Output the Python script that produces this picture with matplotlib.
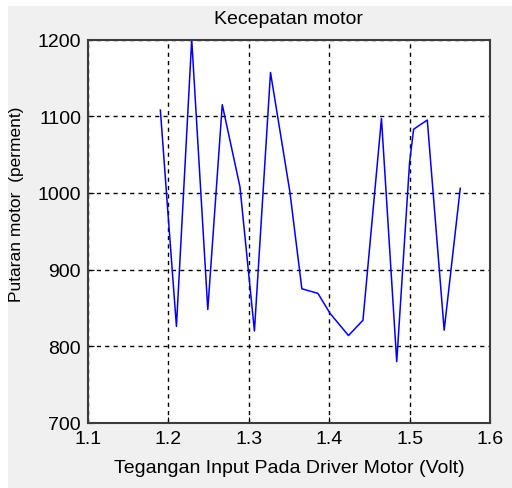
import matplotlib
matplotlib.use("Agg")
import matplotlib.pyplot as plt
from matplotlib.patches import Rectangle

tegangan = [1.190, 1.200, 1.210, 1.229, 1.249, 1.267, 1.289, 1.307, 1.327, 1.351,
            1.366, 1.386, 1.401, 1.424, 1.442, 1.465, 1.484, 1.500, 1.505, 1.522,
            1.543, 1.563]
putaran = [1108, 966, 826, 1200, 848, 1115, 1008, 820, 1157, 1002,
           875, 869, 843, 814, 834, 1097, 780, 1040, 1083, 1095,
           821, 1006]
xticks = [1.1, 1.2, 1.3, 1.4, 1.5, 1.6]
yticks = [700, 800, 900, 1000, 1100, 1200]

plt.rcParams['font.family'] = ['Liberation Sans', 'DejaVu Sans']

fig = plt.figure(figsize=(5.12, 4.89), dpi=100, facecolor='white')
fig.patches.append(Rectangle((8/512, 0), 1, 1 - 7/489, transform=fig.transFigure,
                             facecolor='#f0f0f0', edgecolor='none', zorder=-10))
ax = fig.add_axes([88/512, (489-424)/489, (490-88)/512, (424-40.5)/489])
ax.set_facecolor('white')
ax.plot(tegangan, putaran, color='#0000ff', lw=1.1)
ax.set_xlim(1.1, 1.6)
ax.set_ylim(700, 1200)
ax.set_xticks(xticks)
ax.set_xticklabels([f"{v:.1f}" for v in xticks])
ax.set_yticks(yticks)
ax.set_yticklabels([str(v) for v in yticks])
ax.grid(True, color='black', linestyle=(0, (3, 3)), linewidth=1.0)
ax.tick_params(direction='in', length=4, labelsize=14, colors='black', pad=5)
for s in ax.spines.values():
    s.set_color('#3c3c3c')
    s.set_linewidth(1.5)
ax.set_title('Kecepatan motor', fontsize=14, pad=12)
ax.set_xlabel('Tegangan Input Pada Driver Motor (Volt)', fontsize=14, labelpad=9)
ax.set_ylabel('Putaran motor  (perment)', fontsize=12.5)
ax.yaxis.set_label_coords(-0.16, 0.573)
fig.savefig('out.png', dpi=100, facecolor=fig.get_facecolor())
